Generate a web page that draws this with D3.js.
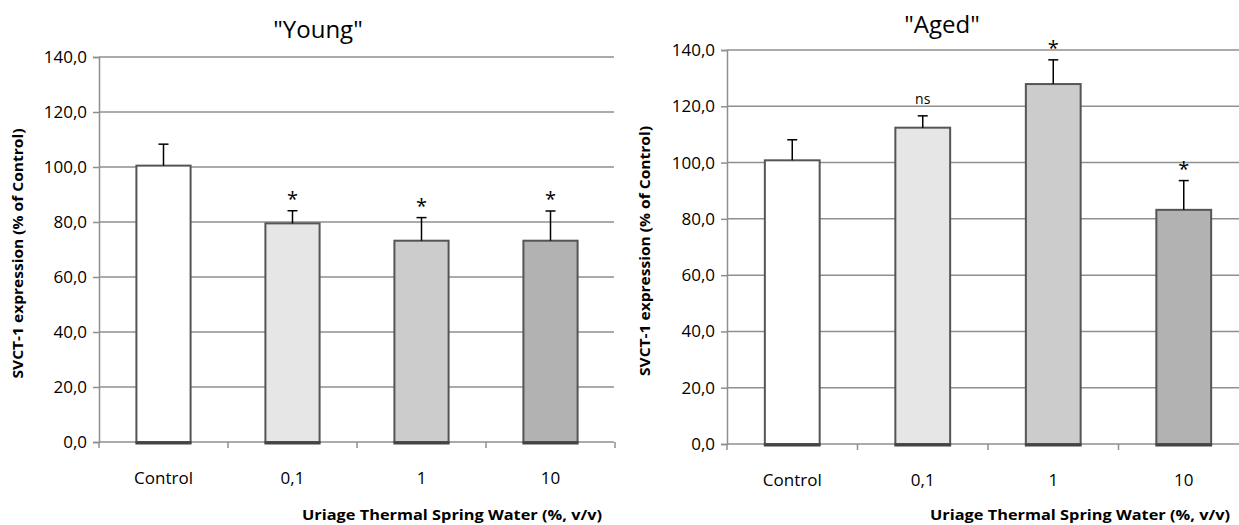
<!DOCTYPE html>
<html>
<head>
<meta charset="utf-8">
<script src="https://cdnjs.cloudflare.com/ajax/libs/d3/7.8.5/d3.min.js"></script>
<style>
  body { margin: 0; background: #fff; }
  text { font-family: "Open Sans", "Noto Sans", sans-serif; }
</style>
</head>
<body>
<svg id="chart" width="1239" height="525"></svg>
<script>
// data
const categories = ["Control", "0,1", "1", "10"];
const barColors = ["#ffffff", "#e6e6e6", "#cccccc", "#b2b2b2"];
const yTicks = [0, 20, 40, 60, 80, 100, 120, 140];

const youngValues = [100.5, 79.5, 73.2, 73.2];
const youngErrors = [7.8, 4.6, 8.4, 10.8];
const youngMarks = ["", "*", "*", "*"];

const agedValues = [100.8, 112.4, 127.9, 83.2];
const agedErrors = [7.3, 4.2, 8.6, 10.4];
const agedMarks = ["", "ns", "*", "*"];

const svg = d3.select("#chart");

// draws one panel
const drawPanel = (opt) => {
    const g = svg.append("g");

    const x = d3.scaleBand()
        .domain(categories)
        .range([opt.left, opt.left + opt.band * 4])
        .paddingInner(0.58)
        .paddingOuter(0.29);

    const y = d3.scaleLinear()
        .domain([0, 140])
        .range([opt.bottom, opt.top]);

    // gridlines
    g.selectAll(".grid")
        .data(yTicks.filter(d => d > 0))
        .enter().append("line")
        .attr("x1", opt.left).attr("x2", opt.gridEnd)
        .attr("y1", d => y(d)).attr("y2", d => y(d))
        .attr("stroke", "#8f8f8f").attr("stroke-width", 1.5);

    // y axis
    const yAxis = g.append("g")
        .attr("transform", `translate(${opt.left},0)`)
        .call(d3.axisLeft(y).tickValues(yTicks).tickSize(6).tickPadding(6)
            .tickFormat(d => d3.format(".1f")(d).replace(".", ",")));
    yAxis.attr("font-family", null).attr("font-size", null);
    yAxis.select(".domain").attr("stroke", "#8f8f8f").attr("stroke-width", 1.5);
    yAxis.selectAll(".tick line").attr("stroke", "#8f8f8f").attr("stroke-width", 1.5);
    yAxis.selectAll(".tick text").attr("font-size", 17).attr("fill", "#000");

    // x axis baseline + ticks at band boundaries
    g.append("line")
        .attr("x1", opt.left).attr("x2", opt.gridEnd)
        .attr("y1", y(0)).attr("y2", y(0))
        .attr("stroke", "#8f8f8f").attr("stroke-width", 1.5);
    g.selectAll(".xtick")
        .data(d3.range(5))
        .enter().append("line")
        .attr("x1", i => opt.left + i * opt.band)
        .attr("x2", i => opt.left + i * opt.band)
        .attr("y1", y(0)).attr("y2", y(0) + 6)
        .attr("stroke", "#8f8f8f").attr("stroke-width", 1.5);

    g.selectAll(".xlabel")
        .data(categories)
        .enter().append("text")
        .attr("x", d => x(d) + x.bandwidth() / 2)
        .attr("y", opt.bottom + 42)
        .attr("text-anchor", "middle")
        .attr("font-size", 17)
        .text(d => d);

    // bars
    g.selectAll(".bar")
        .data(categories)
        .enter().append("rect")
        .attr("x", d => x(d))
        .attr("y", (d, i) => y(opt.values[i]))
        .attr("width", x.bandwidth())
        .attr("height", (d, i) => y(0) - y(opt.values[i]))
        .attr("fill", (d, i) => barColors[i])
        .attr("stroke", "#555")
        .attr("stroke-width", 2);

    g.selectAll(".barbase")
        .data(categories)
        .enter().append("line")
        .attr("x1", d => x(d) - 1).attr("x2", d => x(d) + x.bandwidth() + 1)
        .attr("y1", y(0) + 1).attr("y2", y(0) + 1)
        .attr("stroke", "#444").attr("stroke-width", 3);

    // error bars
    const err = g.selectAll(".err")
        .data(categories)
        .enter().append("g");
    err.append("line")
        .attr("x1", d => x(d) + x.bandwidth() / 2)
        .attr("x2", d => x(d) + x.bandwidth() / 2)
        .attr("y1", (d, i) => y(opt.values[i]))
        .attr("y2", (d, i) => y(opt.values[i] + opt.errors[i]))
        .attr("stroke", "#000").attr("stroke-width", 1.5);
    err.append("line")
        .attr("x1", d => x(d) + x.bandwidth() / 2 - 5)
        .attr("x2", d => x(d) + x.bandwidth() / 2 + 5)
        .attr("y1", (d, i) => y(opt.values[i] + opt.errors[i]))
        .attr("y2", (d, i) => y(opt.values[i] + opt.errors[i]))
        .attr("stroke", "#000").attr("stroke-width", 1.5);

    // significance marks
    g.selectAll(".mark")
        .data(categories)
        .enter().append("text")
        .attr("x", d => x(d) + x.bandwidth() / 2)
        .attr("y", (d, i) => y(opt.values[i] + opt.errors[i]) + (opt.marks[i] === "*" ? -5 : -12))
        .attr("text-anchor", "middle")
        .attr("font-size", (d, i) => opt.marks[i] === "*" ? 20 : 14)
        .text((d, i) => opt.marks[i]);

    // titles
    g.append("text")
        .attr("x", opt.titleX).attr("y", opt.titleY)
        .attr("text-anchor", "middle")
        .attr("font-size", 24)
        .text(opt.title);

    g.append("text")
        .attr("transform", `translate(${opt.yTitleX},${(opt.top + opt.bottom) / 2 + 4}) rotate(-90)`)
        .attr("text-anchor", "middle")
        .attr("font-size", 14)
        .attr("font-weight", "bold")
        .attr("textLength", 250)
        .attr("lengthAdjust", "spacingAndGlyphs")
        .text("SVCT-1 expression (% of Control)");

    g.append("text")
        .attr("x", opt.xTitleEnd).attr("y", 520)
        .attr("text-anchor", "end")
        .attr("font-size", 15)
        .attr("font-weight", "bold")
        .attr("textLength", 300)
        .attr("lengthAdjust", "spacingAndGlyphs")
        .text("Uriage Thermal Spring Water (%, v/v)");
};

drawPanel({
    left: 99, band: 129, gridEnd: 614, top: 57, bottom: 442,
    values: youngValues, errors: youngErrors, marks: youngMarks,
    title: "\"Young\"", titleX: 318, titleY: 38,
    yTitleX: 23, xTitleEnd: 602
});

drawPanel({
    left: 727, band: 130.5, gridEnd: 1239, top: 50, bottom: 444,
    values: agedValues, errors: agedErrors, marks: agedMarks,
    title: "\"Aged\"", titleX: 942, titleY: 33,
    yTitleX: 650, xTitleEnd: 1230
});
</script>
</body>
</html>
